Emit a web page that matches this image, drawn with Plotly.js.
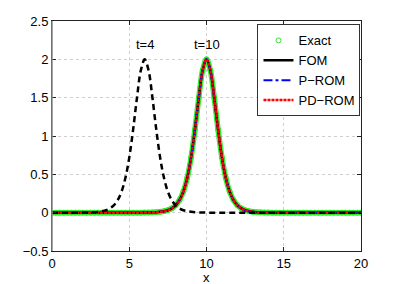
<!DOCTYPE html>
<html>
<head>
<meta charset="utf-8">
<script src="https://cdn.plot.ly/plotly-3.0.1.min.js"></script>
<style>html,body{margin:0;padding:0;background:#fff;}#chart{width:399px;height:284px;}</style>
</head>
<body>
<div id="chart"></div>
<script>
// grid of x positions (step 0.25 from 0 to 20)
const xs = [0,0.25,0.5,0.75,1,1.25,1.5,1.75,2,2.25,2.5,2.75,3,3.25,3.5,3.75,4,4.25,4.5,4.75,
  5,5.25,5.5,5.75,6,6.25,6.5,6.75,7,7.25,7.5,7.75,8,8.25,8.5,8.75,9,9.25,9.5,9.75,
  10,10.25,10.5,10.75,11,11.25,11.5,11.75,12,12.25,12.5,12.75,13,13.25,13.5,13.75,14,14.25,14.5,14.75,
  15,15.25,15.5,15.75,16,16.25,16.5,16.75,17,17.25,17.5,17.75,18,18.25,18.5,18.75,19,19.25,19.5,19.75,20];

// solution at t=10 (Exact / FOM / P-ROM / PD-ROM overlap)
const yT10 = [0,0,0,0,0,0,0,0,0,0,0,0,0,0,0,0,0,0,0,0,0,0,0,0,
  0.001,0.002,0.004,0.006,0.011,0.019,0.032,0.056,0.096,0.163,0.274,0.452,0.718,1.082,1.499,1.856,
  2.000,
  1.856,1.499,1.082,0.718,0.452,0.274,0.163,0.096,0.056,0.032,0.019,0.011,0.006,0.004,0.002,0.001,
  0,0,0,0,0,0,0,0,0,0,0,0,0,0,0,0,0,0,0,0,0,0,0,0];

// FOM solution at t=4
const yT4 = [0,0,0,0,0,0,0,0,
  0.001,0.002,0.004,0.006,0.011,0.019,0.032,0.056,0.096,0.163,0.274,0.452,0.718,1.082,1.499,1.856,
  2.000,
  1.856,1.499,1.082,0.718,0.452,0.274,0.163,0.096,0.056,0.032,0.019,0.011,0.006,0.004,0.002,0.001,
  0,0,0,0,0,0,0,0,0,0,0,0,0,0,0,0,0,0,0,0,0,0,0,0,0,0,0,0,0,0,0,0,0,0,0,0,0,0,0,0];

const seriesNames = ['Exact','FOM','P\u2212ROM','PD\u2212ROM'];
const labels = [{x:6, y:2.19, text:'t=4'}, {x:10, y:2.19, text:'t=10'}];
const xTitle = 'x';

const FONT = 'Liberation Sans, Arial, Helvetica, sans-serif';

const traces = [
  {x: xs, y: yT10, mode:'lines', line:{color:'#33ee33', width:5.5, shape:'spline'}, showlegend:false, hoverinfo:'skip'},
  {x: xs, y: yT10, mode:'markers', name: seriesNames[0],
   marker:{symbol:'circle-open', size:5, color:'#22ee22', line:{width:1, color:'#22ee22'}}},
  {x: xs, y: yT10, mode:'lines', name: seriesNames[1], line:{color:'#000', width:2.5, shape:'spline'}},
  {x: xs, y: yT10, mode:'lines', name: seriesNames[2], line:{color:'#0000ff', width:2, dash:'dashdot', shape:'spline'}},
  {x: xs, y: yT10, mode:'lines', name: seriesNames[3], line:{color:'#ff0000', width:2.5, dash:'3px,1px', shape:'spline'}},
  {x: xs, y: yT4, mode:'lines', showlegend:false, line:{color:'#000', width:2.5, dash:'6px,4px', shape:'spline'}}
];

const layout = {
  width:399, height:284,
  margin:{l:52, r:38, t:21, b:33},
  paper_bgcolor:'#fff', plot_bgcolor:'#fff',
  font:{family:FONT, size:13, color:'#000'},
  showlegend:true,
  xaxis:{range:[0,20], tickvals:[0,5,10,15,20], ticktext:['0','5','10','15','20'],
    showgrid:true, gridcolor:'#cfcfcf', griddash:'dot', gridwidth:1,
    zeroline:false, showline:true, linecolor:'#222', linewidth:1, mirror:'ticks',
    ticks:'inside', ticklen:4, tickcolor:'#222', automargin:false},
  yaxis:{range:[-0.5,2.5], tickvals:[-0.5,0,0.5,1,1.5,2,2.5], ticktext:['\u22120.5','0','0.5','1','1.5','2','2.5'],
    showgrid:true, gridcolor:'#cfcfcf', griddash:'dot', gridwidth:1,
    zeroline:false, showline:true, linecolor:'#222', linewidth:1, mirror:'ticks',
    ticks:'inside', ticklen:4, tickcolor:'#222', automargin:false},
  legend:{x:0.665, y:0.985, xanchor:'left', yanchor:'top', bgcolor:'#fff',
    bordercolor:'#333', borderwidth:1, font:{size:13}, tracegroupgap:0, itemwidth:30},
  shapes:[{type:'line', xref:'paper', yref:'paper', x0:0, x1:0, y0:0, y1:1,
    line:{color:'#8a8a8a', width:1.5}, layer:'above'}],
  annotations: labels.map(a => ({x:a.x, y:a.y, xref:'x', yref:'y', text:a.text, showarrow:false, font:{size:13}}))
    .concat([{x:0.5, y:-0.117, xref:'paper', yref:'paper', text:xTitle, showarrow:false,
      xanchor:'center', yanchor:'middle', borderpad:0, font:{size:13}}])
};

Plotly.newPlot('chart', traces, layout, {displayModeBar:false, staticPlot:true});
</script>
</body>
</html>
